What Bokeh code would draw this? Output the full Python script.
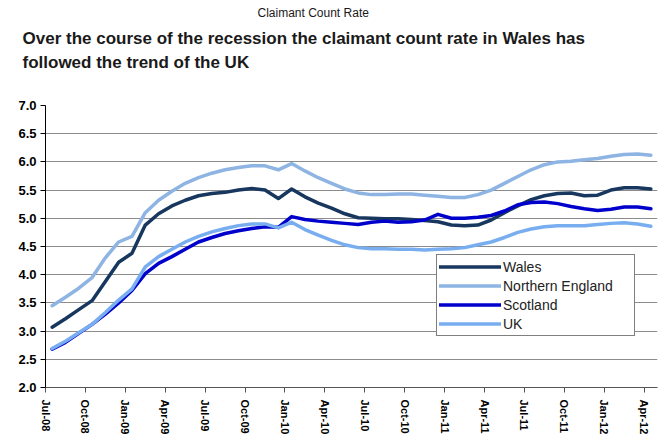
from bokeh.plotting import figure
from bokeh.models import (Range1d, FixedTicker, Title, Legend, LegendItem,
                          NumeralTickFormatter, ColumnDataSource)
from bokeh.embed import file_html
from bokeh.resources import INLINE

# ---- data (monthly, Jul-08 .. Apr-12) ----
months = ["Jul-08", "Aug-08", "Sep-08", "Oct-08", "Nov-08", "Dec-08",
          "Jan-09", "Feb-09", "Mar-09", "Apr-09", "May-09", "Jun-09",
          "Jul-09", "Aug-09", "Sep-09", "Oct-09", "Nov-09", "Dec-09",
          "Jan-10", "Feb-10", "Mar-10", "Apr-10", "May-10", "Jun-10",
          "Jul-10", "Aug-10", "Sep-10", "Oct-10", "Nov-10", "Dec-10",
          "Jan-11", "Feb-11", "Mar-11", "Apr-11", "May-11", "Jun-11",
          "Jul-11", "Aug-11", "Sep-11", "Oct-11", "Nov-11", "Dec-11",
          "Jan-12", "Feb-12", "Mar-12", "Apr-12"]

wales = [3.07, 3.22, 3.38, 3.54, 3.88, 4.22, 4.38, 4.88, 5.08, 5.22, 5.32, 5.40,
         5.44, 5.46, 5.50, 5.53, 5.50, 5.35, 5.52, 5.38, 5.27, 5.18, 5.08, 5.01,
         5.00, 4.99, 4.99, 4.98, 4.96, 4.94, 4.88, 4.87, 4.88, 4.97, 5.10, 5.22,
         5.33, 5.40, 5.44, 5.45, 5.40, 5.41, 5.50, 5.54, 5.54, 5.52]

northern_england = [3.45, 3.60, 3.76, 3.95, 4.30, 4.58, 4.68, 5.10, 5.32, 5.48, 5.62, 5.72,
                    5.80, 5.86, 5.90, 5.93, 5.93, 5.86, 5.97, 5.84, 5.72, 5.62, 5.52, 5.45,
                    5.42, 5.42, 5.43, 5.43, 5.41, 5.39, 5.37, 5.37, 5.42, 5.50, 5.62, 5.74,
                    5.86, 5.95, 6.00, 6.01, 6.04, 6.06, 6.10, 6.13, 6.14, 6.12]

scotland = [2.68, 2.80, 2.96, 3.12, 3.30, 3.50, 3.72, 4.02, 4.20, 4.32, 4.45, 4.58,
            4.66, 4.73, 4.78, 4.82, 4.85, 4.84, 5.03, 4.98, 4.95, 4.93, 4.91, 4.89,
            4.93, 4.95, 4.93, 4.94, 4.97, 5.07, 5.00, 5.00, 5.02, 5.05, 5.13, 5.24,
            5.28, 5.29, 5.26, 5.21, 5.17, 5.14, 5.16, 5.20, 5.20, 5.17]

uk = [2.69, 2.82, 2.97, 3.12, 3.33, 3.55, 3.75, 4.14, 4.32, 4.45, 4.58, 4.68,
      4.76, 4.82, 4.87, 4.90, 4.90, 4.83, 4.93, 4.80, 4.70, 4.61, 4.53, 4.48,
      4.46, 4.46, 4.45, 4.45, 4.44, 4.45, 4.46, 4.48, 4.53, 4.58, 4.66, 4.75,
      4.81, 4.85, 4.87, 4.87, 4.87, 4.89, 4.91, 4.92, 4.90, 4.86]

tick_labels = ["Jul-08", "Oct-08", "Jan-09", "Apr-09", "Jul-09", "Oct-09",
               "Jan-10", "Apr-10", "Jul-10", "Oct-10", "Jan-11", "Apr-11",
               "Jul-11", "Oct-11", "Jan-12", "Apr-12"]

series_names = ["Wales", "Northern England", "Scotland", "UK"]
series_colors = ["#17375E", "#8DB4E2", "#0000CC", "#78AEF0"]

FONT = "Liberation Sans"

x = [i + 0.5 for i in range(len(months))]
tick_pos = [months.index(t) for t in tick_labels]

p = figure(width=664, height=439, output_backend="svg", toolbar_location=None,
           x_range=Range1d(0, len(months)), y_range=Range1d(2.0, 7.0),
           min_border_left=45, min_border_right=7, min_border_bottom=52,
           min_border_top=105)
p.outline_line_color = None
p.background_fill_color = "white"
p.border_fill_color = "white"

# axes
p.xaxis.ticker = FixedTicker(ticks=tick_pos)
p.xaxis.major_label_overrides = {pos: lab for pos, lab in zip(tick_pos, tick_labels)}
p.xaxis.major_label_orientation = "vertical"
p.xaxis.major_label_text_font = FONT
p.xaxis.major_label_text_font_size = "11px"
p.xaxis.major_label_text_font_style = "bold"
p.xaxis.major_label_text_color = "black"
p.xaxis.major_label_standoff = 7
p.xaxis.axis_line_color = "#555555"
p.xaxis.major_tick_line_color = "#555555"
p.xaxis.major_tick_out = 5
p.xaxis.major_tick_in = 0
p.xaxis.minor_tick_line_color = None

p.yaxis.ticker = FixedTicker(ticks=[2.0, 2.5, 3.0, 3.5, 4.0, 4.5, 5.0, 5.5, 6.0, 6.5, 7.0])
p.yaxis.formatter = NumeralTickFormatter(format="0.0")
p.yaxis.major_label_text_font = FONT
p.yaxis.major_label_text_font_size = "13px"
p.yaxis.major_label_text_font_style = "bold"
p.yaxis.major_label_text_color = "black"
p.yaxis.major_label_standoff = 4
p.yaxis.axis_line_color = "black"
p.yaxis.major_tick_line_color = "black"
p.yaxis.major_tick_out = 5
p.yaxis.major_tick_in = 0
p.yaxis.minor_tick_line_color = None

p.xgrid.grid_line_color = None
p.ygrid.grid_line_color = "#8C8C8C"
p.ygrid.grid_line_width = 1

# series
renderers = []
for name, vals, col in zip(series_names, [wales, northern_england, scotland, uk], series_colors):
    src = ColumnDataSource(dict(x=x, y=vals))
    r = p.line("x", "y", source=src, line_color=col, line_width=3.5, line_join="round",
               line_cap="round")
    renderers.append((name, r))

legend = Legend(items=[LegendItem(label=n, renderers=[r]) for n, r in renderers],
                location=(391, 51), orientation="vertical",
                padding=2, spacing=0, margin=0,
                glyph_width=62, glyph_height=19, label_height=19, label_width=129,
                label_standoff=2,
                label_text_font=FONT, label_text_font_size="14px",
                label_text_color="#222222",
                border_line_color="black", border_line_width=1,
                background_fill_color="white", background_fill_alpha=1.0)
p.add_layout(legend, "center")

# titles (closest to plot added first); a blank title acts as a spacer
p.add_layout(Title(text=" ", text_font=FONT, text_font_size="29px", standoff=0), "above")
p.add_layout(Title(text="followed the trend of the UK", align="left", offset=-23,
                   text_font=FONT, text_font_size="17px", text_font_style="bold",
                   text_color="#1a1a1a", standoff=0), "above")
p.add_layout(Title(text="Over the course of the recession the claimant count rate in Wales has",
                   align="left", offset=-23,
                   text_font=FONT, text_font_size="17px", text_font_style="bold",
                   text_color="#1a1a1a", standoff=6), "above")
p.add_layout(Title(text="Claimant Count Rate", align="left", offset=212,
                   text_font=FONT, text_font_size="12px", text_font_style="normal",
                   text_color="#1a1a1a", standoff=7), "above")

open("out.html", "w").write(file_html(p, INLINE))
